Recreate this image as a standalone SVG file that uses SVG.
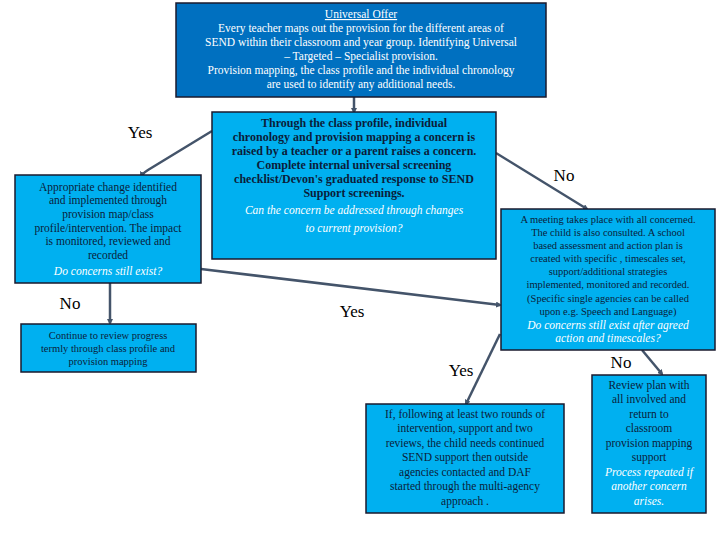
<svg xmlns="http://www.w3.org/2000/svg" width="720" height="540" viewBox="0 0 720 540">
<style>
.dk{fill:#0070C0;stroke:#1a1a2e;stroke-width:1.5}
.lt{fill:#00B0F0;stroke:#1a1a2e;stroke-width:1.5}
text{font-family:'Liberation Serif','DejaVu Serif',serif;text-anchor:middle}
.w{fill:#fff;font-size:11.5px}
.b{fill:#0b1d3a;font-size:11.5px}
.s{fill:#0b1d3a;font-size:10.5px}
.bb{fill:#0b1d3a;font-size:12px;font-weight:bold}
.it{fill:#fff;font-style:italic;font-size:11.5px}
.lbl{fill:#000;font-size:17px}
.c{stroke:#44546A;stroke-width:2.5;fill:none;marker-end:url(#a)}
</style>
<defs><marker id="a" markerWidth="6" markerHeight="6" refX="4" refY="3" orient="auto" markerUnits="userSpaceOnUse"><path d="M0,0L6,3L0,6z" fill="#44546A"/></marker></defs>
<g id="connectors">
<line class="c" x1="354" y1="97" x2="354" y2="112"/>
<path class="c" d="M212,131 L148,170 Q142,174 141,176"/>
<line class="c" x1="110" y1="283" x2="110" y2="323"/>
<line class="c" x1="201" y1="269" x2="500" y2="305"/>
<line class="c" x1="496" y1="153" x2="587" y2="209"/>
<line class="c" x1="500" y1="334" x2="466" y2="404"/>
<line class="c" x1="642" y1="350" x2="662" y2="374"/>
</g>
<g id="labels">
<text class="lbl" x="140" y="138">Yes</text>
<text class="lbl" x="70" y="309">No</text>
<text class="lbl" x="352" y="317">Yes</text>
<text class="lbl" x="564" y="181">No</text>
<text class="lbl" x="461" y="376">Yes</text>
<text class="lbl" x="621" y="368">No</text>
</g>
<g id="universal">
<rect class="dk" x="176" y="3" width="370" height="94"/>
<text class="w" x="361" y="18" text-decoration="underline">Universal Offer</text>
<text class="w" x="361" y="32">Every teacher maps out the provision for the different areas of</text>
<text class="w" x="361" y="46">SEND within their classroom and year group. Identifying Universal</text>
<text class="w" x="361" y="60">– Targeted – Specialist provision.</text>
<text class="w" x="361" y="74">Provision mapping, the class profile and the individual chronology</text>
<text class="w" x="361" y="88">are used to identify any additional needs.</text>
</g>
<g id="concern">
<rect class="lt" x="212" y="112" width="284" height="147"/>
<text class="bb" x="354" y="127">Through the class profile, individual</text>
<text class="bb" x="354" y="141">chronology and provision mapping a concern is</text>
<text class="bb" x="354" y="155">raised by a teacher  or a parent raises a concern.</text>
<text class="bb" x="354" y="169">Complete internal universal screening</text>
<text class="bb" x="354" y="183">checklist/Devon's graduated response to SEND</text>
<text class="bb" x="354" y="197">Support   screenings.</text>
<text class="it" x="354" y="214">Can the concern be addressed through changes</text>
<text class="it" x="354" y="232">to current provision?</text>
</g>
<g id="change">
<rect class="lt" x="15" y="175" width="186" height="108"/>
<text class="b" x="108" y="191">Appropriate change identified</text>
<text class="b" x="108" y="204">and implemented through</text>
<text class="b" x="108" y="218">provision map/class</text>
<text class="b" x="108" y="232">profile/intervention. The impact</text>
<text class="b" x="108" y="245">is monitored, reviewed and</text>
<text class="b" x="108" y="259">recorded</text>
<text class="it" x="108" y="275">Do concerns still exist?</text>
</g>
<g id="continue">
<rect class="lt" x="21" y="324" width="175" height="48"/>
<text class="s" x="108" y="339">Continue to review progress</text>
<text class="s" x="108" y="352">termly through class profile and</text>
<text class="s" x="108" y="365">provision mapping</text>
</g>
<g id="meeting">
<rect class="lt" x="501" y="209" width="214" height="141"/>
<text class="s" x="608" y="223">A meeting takes place with all concerned.</text>
<text class="s" x="608" y="236">The child is also consulted. A school</text>
<text class="s" x="608" y="249">based assessment and action plan is</text>
<text class="s" x="608" y="262">created with specific , timescales set,</text>
<text class="s" x="608" y="275">support/additional strategies</text>
<text class="s" x="608" y="288">implemented, monitored and recorded.</text>
<text class="s" x="608" y="302">(Specific single agencies can be called</text>
<text class="s" x="608" y="315">upon e.g. Speech and Language)</text>
<text class="it" x="608" y="329">Do concerns still exist after agreed</text>
<text class="it" x="608" y="342">action and timescales?</text>
</g>
<g id="outside">
<rect class="lt" x="366" y="404" width="198" height="109"/>
<text class="b" x="465" y="418">If, following at least two rounds of</text>
<text class="b" x="465" y="432">intervention, support and two</text>
<text class="b" x="465" y="447">reviews, the child needs continued</text>
<text class="b" x="465" y="461">SEND support then outside</text>
<text class="b" x="465" y="476">agencies contacted and DAF</text>
<text class="b" x="465" y="490">started through the multi-agency</text>
<text class="b" x="465" y="505">approach .</text>
</g>
<g id="review">
<rect class="lt" x="592" y="375" width="114" height="138"/>
<text class="b" x="649" y="389">Review plan with</text>
<text class="b" x="649" y="403">all involved and</text>
<text class="b" x="649" y="418">return to</text>
<text class="b" x="649" y="432">classroom</text>
<text class="b" x="649" y="447">provision mapping</text>
<text class="b" x="649" y="461">support</text>
<text class="it" x="649" y="476">Process repeated if</text>
<text class="it" x="649" y="490">another concern</text>
<text class="it" x="649" y="505">arises.</text>
</g>
</svg>
